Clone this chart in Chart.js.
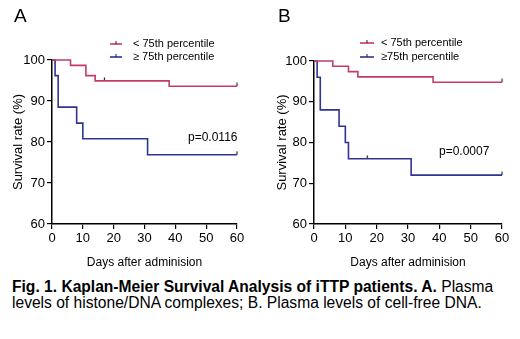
<!DOCTYPE html>
<html lang="en">
  <head>
    <meta charset="UTF-8" />
    <title>Kaplan-Meier Survival Analysis</title>
  </head>
  <style>
    * {
      margin: 0;
      padding: 0;
      font-family: "Liberation Sans", Arial, sans-serif;
    }
    body {
      width: 520px;
      height: 339px;
      background: white;
      position: relative;
      overflow: hidden;
    }
    .panel {
      position: absolute;
      top: 0;
      width: 260px;
      height: 270px;
    }
    .caption {
      position: absolute;
      left: 12px;
      top: 279px;
      width: 508px;
      font-size: 15.6px;
      line-height: 16px;
      color: #000;
      white-space: nowrap;
    }
  </style>
  <body>
    <div class="panel" style="left: 0"><canvas id="chartA" width="260" height="270"></canvas></div>
    <div class="panel" style="left: 260px"><canvas id="chartB" width="260" height="270"></canvas></div>
    <div class="caption">
      <b>Fig. 1. Kaplan-Meier Survival Analysis of iTTP patients. A.</b> Plasma<br />
      levels of histone/DNA complexes; B. Plasma levels of cell-free DNA.
    </div>

    <script src="https://cdn.jsdelivr.net/npm/chart.js"></script>

    <script>
      // step data (day, survival %)
      const aLowDays = [0, 6, 11, 14, 38, 60];
      const aLowSurv = [100, 98.7, 96.2, 94.9, 93.6, 93.6];
      const aHighDays = [0, 1, 2, 8, 10, 31, 60];
      const aHighSurv = [100, 96.2, 88.5, 84.6, 80.8, 76.9, 76.9];
      const bLowDays = [0, 6, 11, 14, 38, 60];
      const bLowSurv = [100, 98.7, 97.4, 96.1, 94.8, 94.8];
      const bHighDays = [0, 1, 2, 8, 10, 11, 31, 60];
      const bHighSurv = [100, 96, 88, 84, 80, 76, 72, 72];

      // censored observations
      const aLowCensDays = [17, 60];
      const aLowCensSurv = [94.9, 93.6];
      const aHighCensDays = [60];
      const aHighCensSurv = [76.9];
      const bLowCensDays = [60];
      const bLowCensSurv = [94.8];
      const bHighCensDays = [17, 60];
      const bHighCensSurv = [76, 72];

      const xTicks = [0, 10, 20, 30, 40, 50, 60];
      const yTicks = [60, 70, 80, 90, 100];

      const pink = "#c43a6c";
      const navy = "#2e3494";

      // small upward tick used as point style for censored marks
      const tickMark = document.createElement("canvas");
      tickMark.width = 5;
      tickMark.height = 8;
      (() => {
        const c = tickMark.getContext("2d");
        c.strokeStyle = "#222";
        c.lineWidth = 1.2;
        c.beginPath();
        c.moveTo(2.5, 0.5);
        c.lineTo(2.5, 4);
        c.stroke();
      })();

      const toPoints = (xs, ys) => xs.map((x, i) => ({ x: x, y: ys[i] }));

      const stepSet = (label, xs, ys, color) => ({
        type: "line",
        label,
        data: toPoints(xs, ys),
        stepped: "before",
        borderColor: color,
        borderWidth: 1.6,
        pointRadius: 0,
        fill: false,
        clip: false
      });

      const censorSet = (xs, ys) => ({
        type: "scatter",
        label: "censored",
        data: toPoints(xs, ys),
        pointStyle: tickMark,
        clip: false
      });

      // panel letter, legend and p value drawn on the canvas
      const extras = (opts) => ({
        id: "extras",
        afterDraw: (chart) => {
          const { ctx } = chart;
          ctx.save();
          ctx.fillStyle = "#000";
          ctx.textBaseline = "middle";
          ctx.font = "19px 'Liberation Sans', Arial";
          ctx.fillText(opts.letter, opts.letterX, 17);

          opts.legend.forEach((item) => {
            ctx.strokeStyle = item.color;
            ctx.lineWidth = 1.6;
            ctx.beginPath();
            ctx.moveTo(opts.legX, item.y);
            ctx.lineTo(opts.legX + opts.legW, item.y);
            ctx.stroke();
            ctx.strokeStyle = "#222";
            ctx.lineWidth = 1;
            ctx.beginPath();
            ctx.moveTo(opts.legX + opts.legW / 2, item.y - 3);
            ctx.lineTo(opts.legX + opts.legW / 2, item.y);
            ctx.stroke();
            ctx.fillStyle = "#000";
            ctx.font = "11px 'Liberation Sans', Arial";
            ctx.fillText(item.text, opts.textX, item.y);
          });

          ctx.font = "12px 'Liberation Sans', Arial";
          ctx.fillText(opts.p, opts.pX, opts.pY);
          ctx.restore();
        }
      });

      const makeChart = (id, sets, pad, yWidth, titlePad, opts) => {
        const ctx = document.getElementById(id);
        return new Chart(ctx, {
          data: { datasets: sets },
          options: {
            responsive: false,
            animation: false,
            layout: { padding: pad },
            plugins: {
              legend: { display: false },
              tooltip: { enabled: false }
            },
            scales: {
              x: {
                type: "linear",
                min: 0,
                max: 60,
                afterBuildTicks: (s) => {
                  s.ticks = xTicks.map((v) => ({ value: v }));
                },
                afterFit: (s) => {
                  s.height = 46;
                },
                border: { display: true, color: "#000", width: 1.5 },
                grid: {
                  drawOnChartArea: false,
                  color: "#000",
                  lineWidth: 1.2,
                  tickLength: 5
                },
                ticks: {
                  color: "#000",
                  padding: 2,
                  maxRotation: 0,
                  font: { size: 13, family: "'Liberation Sans', Arial" }
                },
                title: {
                  display: true,
                  text: "Days after adminision",
                  color: "#000",
                  padding: { top: 0, bottom: 0 },
                  font: { size: 12, family: "'Liberation Sans', Arial" }
                }
              },
              y: {
                type: "linear",
                min: 60,
                max: 100,
                afterBuildTicks: (s) => {
                  s.ticks = yTicks.map((v) => ({ value: v }));
                },
                afterFit: (s) => {
                  s.width = yWidth;
                },
                border: { display: true, color: "#000", width: 1.5 },
                grid: {
                  drawOnChartArea: false,
                  color: "#000",
                  lineWidth: 1.2,
                  tickLength: 5
                },
                ticks: {
                  color: "#000",
                  padding: 2,
                  font: { size: 13, family: "'Liberation Sans', Arial" }
                },
                title: {
                  display: true,
                  text: "Survival rate (%)",
                  color: "#000",
                  padding: { top: titlePad, bottom: 2 },
                  font: { size: 13, family: "'Liberation Sans', Arial" }
                }
              }
            }
          },
          plugins: [extras(opts)]
        });
      };

      makeChart(
        "chartA",
        [
          stepSet("< 75th percentile", aLowDays, aLowSurv, pink),
          stepSet("≥ 75th percentile", aHighDays, aHighSurv, navy),
          censorSet(aLowCensDays, aLowCensSurv),
          censorSet(aHighCensDays, aHighCensSurv)
        ],
        { left: 4, right: 23, top: 60, bottom: 0 },
        48,
        7,
        {
          letter: "A",
          letterX: 14,
          legX: 110,
          legW: 12,
          textX: 133,
          legend: [
            { text: "< 75th percentile", color: pink, y: 44 },
            { text: "≥ 75th percentile", color: navy, y: 57 }
          ],
          p: "p=0.0116",
          pX: 188,
          pY: 138
        }
      );

      makeChart(
        "chartB",
        [
          stepSet("< 75th percentile", bLowDays, bLowSurv, pink),
          stepSet("≥75th percentile", bHighDays, bHighSurv, navy),
          censorSet(bLowCensDays, bLowCensSurv),
          censorSet(bHighCensDays, bHighCensSurv)
        ],
        { left: 6, right: 18, top: 61, bottom: 0 },
        48,
        9,
        {
          letter: "B",
          letterX: 18,
          legX: 100,
          legW: 14,
          textX: 121,
          legend: [
            { text: "< 75th percentile", color: pink, y: 43 },
            { text: "≥75th percentile", color: navy, y: 57 }
          ],
          p: "p=0.0007",
          pX: 179,
          pY: 152
        }
      );
    </script>
  </body>
</html>
